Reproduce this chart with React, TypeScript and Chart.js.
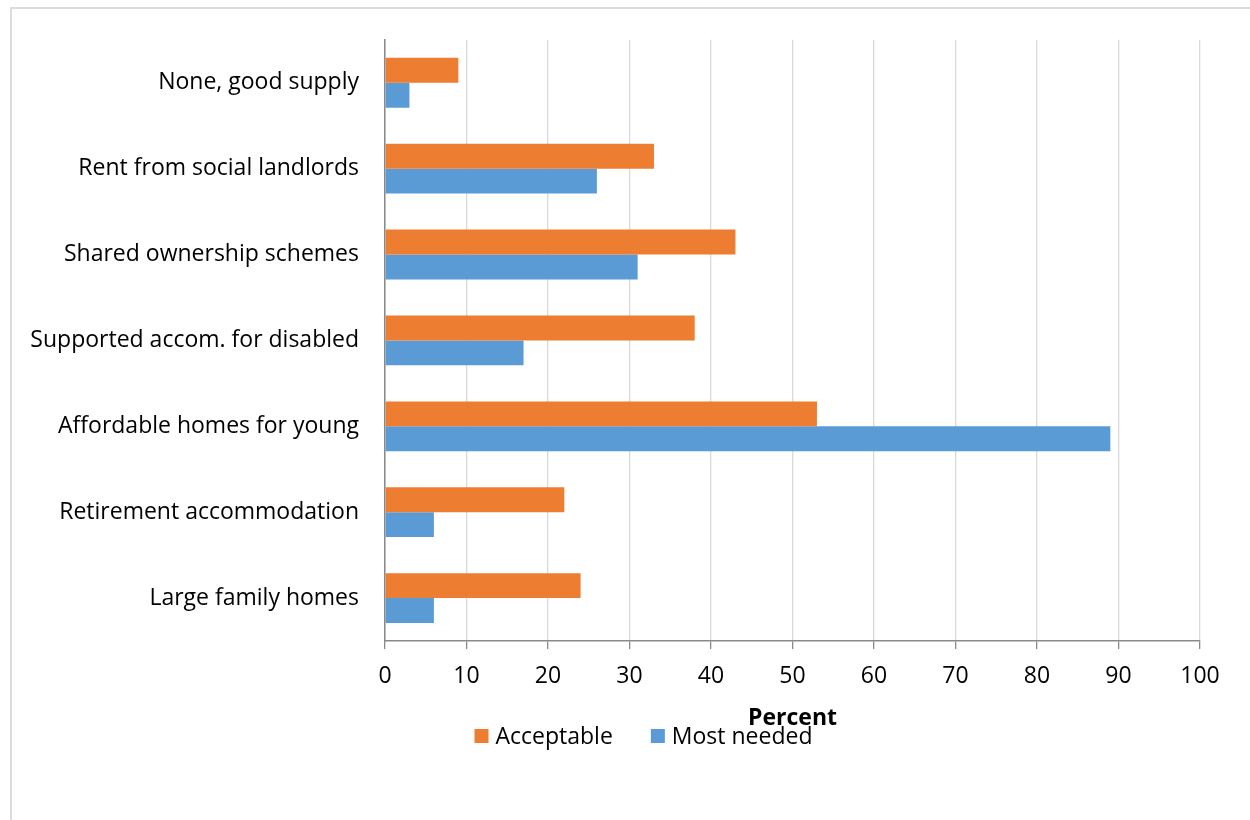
import React, { useEffect, useRef } from "react";
import { Chart, registerables } from "chart.js";

Chart.register(...registerables);

const categories = [
  "None, good supply",
  "Rent from social landlords",
  "Shared ownership schemes",
  "Supported accom. for disabled",
  "Affordable homes for young",
  "Retirement accommodation",
  "Large family homes",
];
const acceptable = [9, 33, 43, 38, 53, 22, 24];
const mostNeeded = [3, 26, 31, 17, 89, 6, 6];
const seriesNames = ["Acceptable", "Most needed"];
const seriesColors = ["#ED7D31", "#5B9BD5"];
const xTitle = "Percent";

const FONT = "'Open Sans', Lato, sans-serif";
const FS = 23;

const legendPlugin = {
  id: "customLegend",
  afterDraw(chart: any) {
    const ctx = chart.ctx;
    ctx.save();
    ctx.font = `${FS}px ${FONT}`;
    ctx.textBaseline = "middle";
    ctx.textAlign = "left";
    const y = 736;
    const box = 14;
    const gap = 7;
    const itemGap = 38;
    const widths = seriesNames.map((n) => box + gap + ctx.measureText(n).width);
    const total = widths.reduce((a, b) => a + b, 0) + itemGap * (seriesNames.length - 1);
    let x = 643.5 - total / 2;
    seriesNames.forEach((n, i) => {
      ctx.fillStyle = seriesColors[i];
      ctx.fillRect(x, y - box / 2, box, box);
      ctx.fillStyle = "#000";
      ctx.fillText(n, x + box + gap, y + 1);
      x += widths[i] + itemGap;
    });
    ctx.restore();
  },
};

export default function App() {
  const ref = useRef<HTMLCanvasElement>(null);
  useEffect(() => {
    if (!ref.current) return;
    const chart = new Chart(ref.current, {
      type: "bar",
      data: {
        labels: categories,
        datasets: [
          {
            label: seriesNames[0],
            data: acceptable,
            backgroundColor: seriesColors[0],
            categoryPercentage: 0.58,
            barPercentage: 1,
          },
          {
            label: seriesNames[1],
            data: mostNeeded,
            backgroundColor: seriesColors[1],
            categoryPercentage: 0.58,
            barPercentage: 1,
          },
        ],
      },
      options: {
        indexAxis: "y",
        animation: false,
        responsive: false,
        maintainAspectRatio: false,
        layout: { padding: { left: 0, top: 37, right: 50, bottom: 0 } },
        plugins: {
          legend: { display: false },
          tooltip: { enabled: false },
        },
        scales: {
          x: {
            min: 0,
            max: 100,
            ticks: {
              stepSize: 10,
              color: "#000",
              font: { family: FONT, size: FS },
              padding: 14,
              maxRotation: 0,
            },
            grid: {
              color: "#d9d9d9",
              lineWidth: 1.3,
              tickColor: "#898989",
              tickLength: 8,
              drawTicks: true,
            },
            border: { color: "#898989", width: 1.5 },
            title: {
              display: true,
              text: xTitle,
              color: "#000",
              font: { family: FONT, size: FS, weight: "bold" },
              padding: { top: 0, bottom: 88 },
            },
            afterFit: (scale: any) => {
              scale.height = 179;
            },
          },
          y: {
            ticks: {
              color: "#000",
              font: { family: FONT, size: FS },
              padding: 26,
            },
            grid: { display: false, drawTicks: false },
            border: { color: "#898989", width: 1.5 },
            afterFit: (scale: any) => {
              scale.width = 385;
            },
          },
        },
      },
      plugins: [legendPlugin],
    });
    return () => chart.destroy();
  }, []);

  return (
    <div>
      <div
        style={{
          position: "fixed",
          left: 10,
          top: 7,
          width: 1400,
          height: 1000,
          border: "2px solid #dcdcdc",
          boxSizing: "border-box",
        }}
      />
      <canvas
        ref={ref}
        width={1250}
        height={820}
        style={{ position: "fixed", left: 0, top: 0, width: 1250, height: 820 }}
      />
    </div>
  );
}
